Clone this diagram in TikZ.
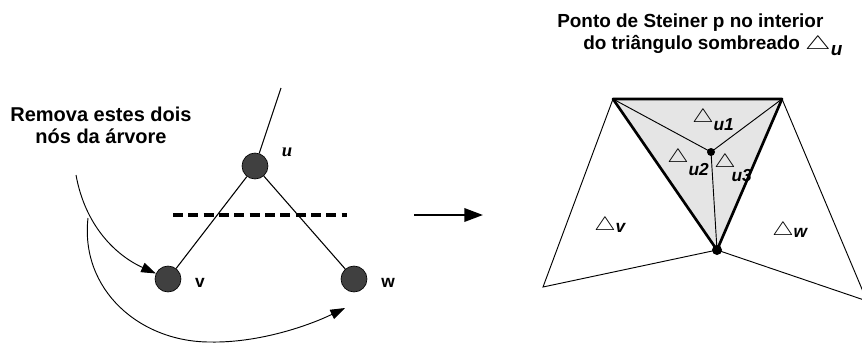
\documentclass[tikz,border=0pt]{standalone}
\usepackage{fontspec}
\usepackage{graphicx}
\setmainfont{Liberation Sans}
\newfontfamily\serifu{Liberation Serif}
\usetikzlibrary{arrows.meta}
\newcommand{\tri}{\scalebox{1.5}[1.2]{$\triangle$}}
\newcommand{\tlab}[2]{\tri\raisebox{-#1}{\itshape #2}}
\tikzset{
  treenode/.style={circle, draw=black, line width=0.5pt, fill=black!75, minimum size=19.5pt, inner sep=0pt},
  edge/.style={line width=0.8pt},
  big/.style={font=\fontsize{15}{16.5}\selectfont\bfseries, inner sep=0pt},
  titlefont/.style={font=\fontsize{14.2}{16.5}\selectfont\bfseries, inner sep=0pt},
  lab/.style={font=\fontsize{13}{14}\selectfont\bfseries, inner sep=0pt},
  thin/.style={line width=0.7pt},
  thick2/.style={line width=2pt},
  dot/.style={circle, fill=black, inner sep=0pt},
}
\begin{document}
\begin{tikzpicture}[x=0.75pt,y=-0.75pt]
\clip (0,0) rectangle (862,343);
% ---------- left: tree ----------
\node[big, align=center, anchor=north] (rm) at (101,107) {Remova estes dois\\nós da árvore};
\coordinate (top) at (281,88);
\node[treenode] (u) at (255,166) {};
\node[treenode] (v) at (168,279) {};
\node[treenode] (w) at (354,279) {};
\draw[edge] (u) -- (top);
\draw[edge] (u) -- (v);
\draw[edge] (u) -- (w);
\node[inner sep=0pt, font=\serifu\fontsize{14}{14}\selectfont\bfseries\itshape] (lu) at (287,152) {u};
\node[lab] (lv) at (200,283) {v};
\node[lab] (lw) at (388,283) {w};
\coordinate (d1) at (173,215);
\coordinate (d2) at (347,215);
\draw[line width=2.4pt, dash pattern=on 7.5pt off 4pt] (d1) -- (d2);
% curved arrows
\coordinate (cs) at (76,175);
\coordinate (br) at (88,218);
\draw[thin, -{Triangle[length=11pt,width=7.5pt]}] (cs) .. controls (85,225) and (115,255) .. (v);
\coordinate (wt) at (345,308);
\draw[thin, -{Triangle[length=11pt,width=7.5pt]}] (br) .. controls (80,290) and (140,342) .. (210,342) .. controls (260,343) and (310,325) .. (wt);
% middle arrow
\coordinate (a1) at (414,215);
\coordinate (a2) at (483,215);
\draw[line width=1.8pt, -{Triangle[length=14pt,width=10pt]}] (a1) -- (a2);
% ---------- right: triangles ----------
\node[titlefont, align=left, anchor=north west] (title) at (557,14) {Ponto de Steiner p no interior\\\hspace*{19.5pt}do triângulo sombreado \scalebox{1.5}[1.0]{$\triangle$}\raisebox{-4pt}{\itshape u}};
\coordinate (A) at (613,99);
\coordinate (B) at (782,99);
\coordinate (C) at (717,250);
\coordinate (P) at (711,152);
\coordinate (L) at (543,287);
\coordinate (R) at (867,301);
\fill[black!10] (A) -- (B) -- (C) -- cycle;
\draw[thin] (A) -- (L) -- (C);
\draw[thin] (B) -- (R) -- (C);
\draw[thin] (A) -- (P) -- (B);
\draw[thin] (P) -- (C);
\draw[thick2, line join=round] (A) -- (B) -- (C) -- cycle;
\node[dot, minimum size=6pt] (pdot) at (P) {};
\node[dot, minimum size=7.5pt] (cdot) at (C) {};
\node[lab, anchor=base west] (l1) at (692,122) {\tlab{6pt}{u1}};
\node[lab, anchor=base west] (l2) at (667,162) {\tlab{10pt}{u2}};
\node[lab, anchor=base west] (l3) at (714,167) {\tri\kern-3pt\raisebox{-11pt}{\itshape u3}};
\node[lab, anchor=base west] (l4) at (594,230) {\tlab{1.5pt}{v}};
\node[lab, anchor=base west] (l5) at (772,235) {\tlab{1.5pt}{w}};
\end{tikzpicture}
\end{document}
